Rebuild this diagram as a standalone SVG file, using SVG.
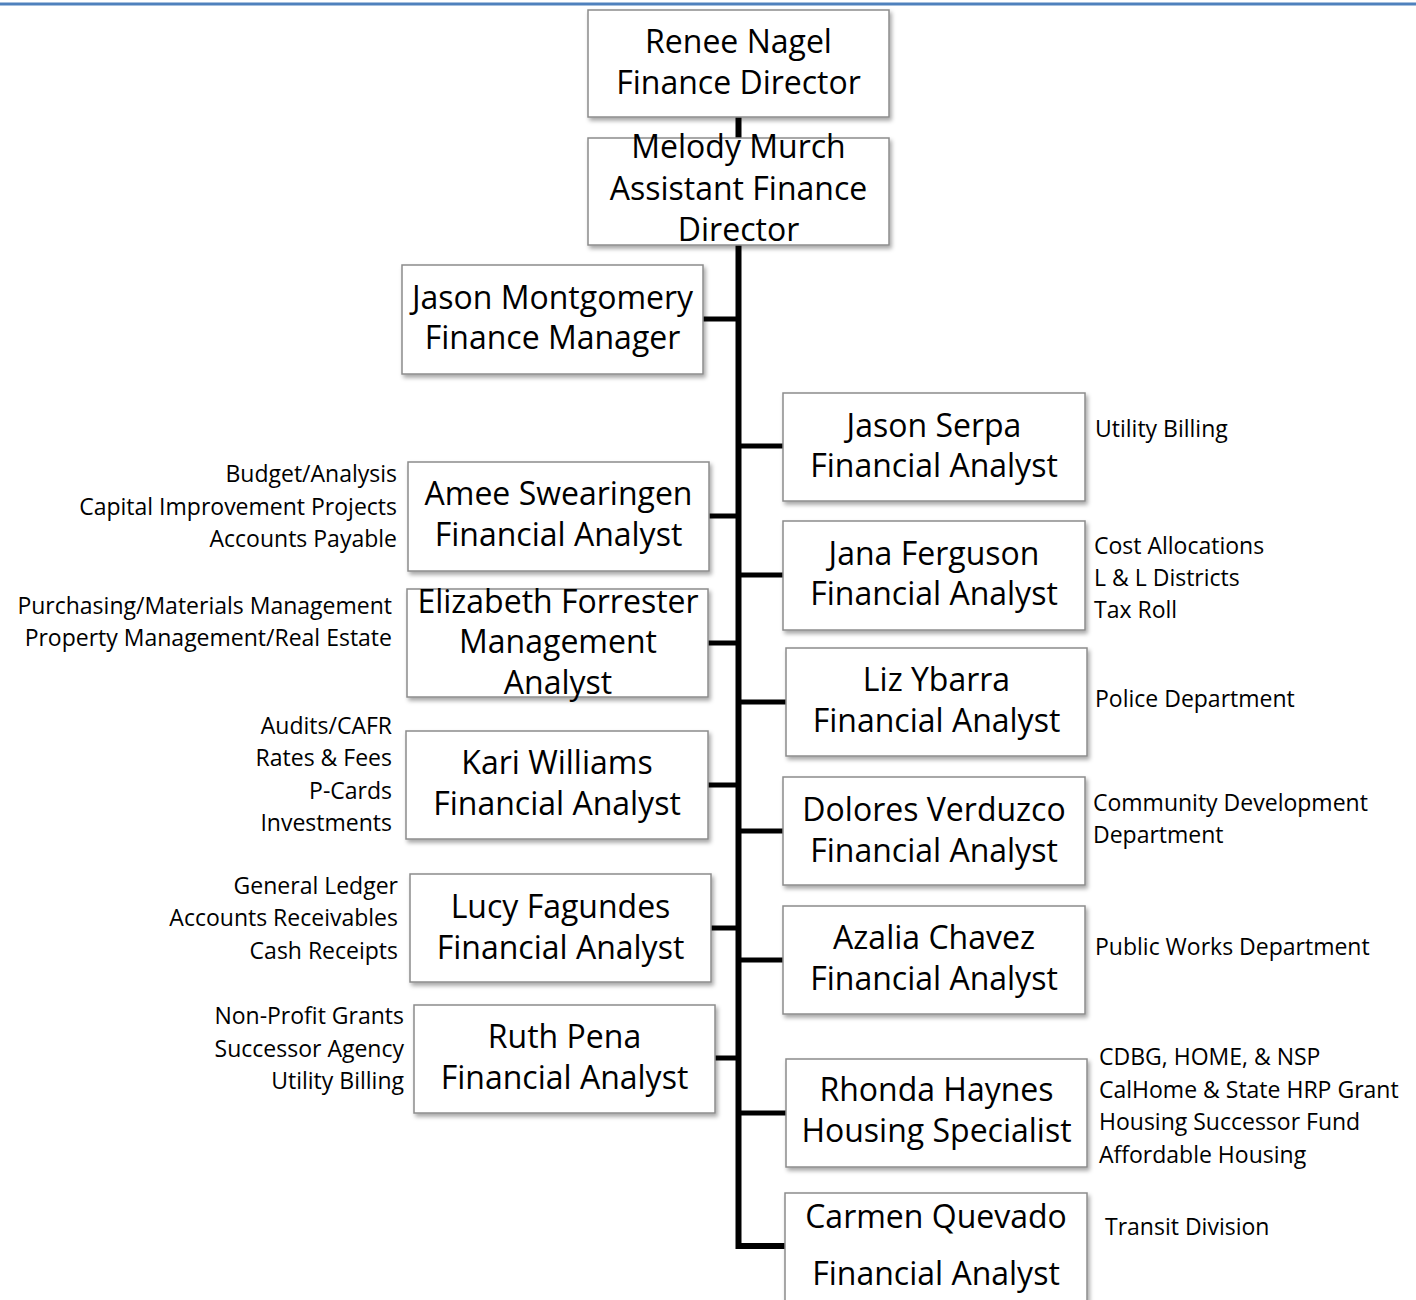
<svg xmlns="http://www.w3.org/2000/svg" width="1416" height="1300" viewBox="0 0 1416 1300">
<style>
.box{fill:#fff;stroke:#8c8c8c;stroke-width:1.5;filter:url(#sh)}
.t{font-family:"Open Sans","Liberation Sans",sans-serif;font-size:32px;fill:#000;text-anchor:middle}
.s{font-family:"Open Sans","Liberation Sans",sans-serif;font-size:23px;fill:#000}
.r{text-anchor:end}
.c{stroke:#000;fill:none}
</style>
<defs>
<filter id="sh" x="-10%" y="-10%" width="125%" height="130%">
<feDropShadow dx="2" dy="3" stdDeviation="2" flood-color="#000" flood-opacity="0.35"/>
</filter>
</defs>
<rect x="0" y="0" width="1416" height="1300" fill="#fff"/>
<line x1="0" y1="4" x2="1416" y2="4" stroke="#4f81bd" stroke-width="3"/>
<g id="connectors">
<line class="c" x1="738.5" y1="117" x2="738.5" y2="138" stroke-width="6"/>
<polyline class="c" points="738.5,245 738.5,1246 785,1246" stroke-width="6"/>
<line class="c" x1="703" y1="319" x2="738" y2="319" stroke-width="5"/>
<line class="c" x1="738" y1="446" x2="783" y2="446" stroke-width="5"/>
<line class="c" x1="709" y1="516" x2="738" y2="516" stroke-width="5"/>
<line class="c" x1="738" y1="575" x2="783" y2="575" stroke-width="5"/>
<line class="c" x1="708" y1="643" x2="738" y2="643" stroke-width="5"/>
<line class="c" x1="738" y1="702" x2="786" y2="702" stroke-width="5"/>
<line class="c" x1="708" y1="785" x2="738" y2="785" stroke-width="5"/>
<line class="c" x1="738" y1="831" x2="783" y2="831" stroke-width="5"/>
<line class="c" x1="711" y1="928" x2="738" y2="928" stroke-width="5"/>
<line class="c" x1="738" y1="960" x2="783" y2="960" stroke-width="5"/>
<line class="c" x1="715" y1="1058" x2="738" y2="1058" stroke-width="5"/>
<line class="c" x1="738" y1="1113" x2="786" y2="1113" stroke-width="5"/>
</g>
<g id="renee"><rect class="box" x="588" y="10" width="301" height="107"/>
<text class="t" x="738.5" y="53">Renee Nagel</text><text class="t" x="738.5" y="94">Finance Director</text></g>
<g id="melody"><rect class="box" x="588" y="138" width="301" height="107"/>
<text class="t" x="738.5" y="158">Melody Murch</text><text class="t" x="738.5" y="200">Assistant Finance</text><text class="t" x="738.5" y="241">Director</text></g>
<g id="montgomery"><rect class="box" x="402" y="265" width="301" height="109"/>
<text class="t" x="552.5" y="309">Jason Montgomery</text><text class="t" x="552.5" y="349">Finance Manager</text></g>
<g id="serpa"><rect class="box" x="783" y="393" width="302" height="108"/>
<text class="t" x="934" y="437">Jason Serpa</text><text class="t" x="934" y="477">Financial Analyst</text>
<text class="s" x="1095" y="437">Utility Billing</text></g>
<g id="swearingen"><rect class="box" x="408" y="462" width="301" height="109"/>
<text class="t" x="558.5" y="505">Amee Swearingen</text><text class="t" x="558.5" y="546">Financial Analyst</text>
<text class="s r" x="397" y="482">Budget/Analysis</text><text class="s r" x="397" y="515">Capital Improvement Projects</text><text class="s r" x="397" y="547">Accounts Payable</text></g>
<g id="ferguson"><rect class="box" x="783" y="521" width="302" height="109"/>
<text class="t" x="934" y="565">Jana Ferguson</text><text class="t" x="934" y="605">Financial Analyst</text>
<text class="s" x="1094" y="554">Cost Allocations</text><text class="s" x="1094" y="586">L &amp; L Districts</text><text class="s" x="1094" y="618">Tax Roll</text></g>
<g id="forrester"><rect class="box" x="407" y="589" width="301" height="108"/>
<text class="t" x="558" y="613">Elizabeth Forrester</text><text class="t" x="558" y="653">Management</text><text class="t" x="558" y="694">Analyst</text>
<text class="s r" x="392" y="614">Purchasing/Materials Management</text><text class="s r" x="392" y="646">Property Management/Real Estate</text></g>
<g id="ybarra"><rect class="box" x="786" y="648" width="301" height="108"/>
<text class="t" x="936.5" y="691">Liz Ybarra</text><text class="t" x="936.5" y="732">Financial Analyst</text>
<text class="s" x="1095" y="707">Police Department</text></g>
<g id="williams"><rect class="box" x="406" y="731" width="302" height="108"/>
<text class="t" x="557" y="774">Kari Williams</text><text class="t" x="557" y="815">Financial Analyst</text>
<text class="s r" x="392" y="734">Audits/CAFR</text><text class="s r" x="392" y="766">Rates &amp; Fees</text><text class="s r" x="392" y="799">P-Cards</text><text class="s r" x="392" y="831">Investments</text></g>
<g id="verduzco"><rect class="box" x="783" y="777" width="302" height="108"/>
<text class="t" x="934" y="821">Dolores Verduzco</text><text class="t" x="934" y="862">Financial Analyst</text>
<text class="s" x="1093" y="811">Community Development</text><text class="s" x="1093" y="843">Department</text></g>
<g id="fagundes"><rect class="box" x="410" y="874" width="301" height="108"/>
<text class="t" x="560.5" y="918">Lucy Fagundes</text><text class="t" x="560.5" y="959">Financial Analyst</text>
<text class="s r" x="398" y="894">General Ledger</text><text class="s r" x="398" y="926">Accounts Receivables</text><text class="s r" x="398" y="959">Cash Receipts</text></g>
<g id="chavez"><rect class="box" x="783" y="906" width="302" height="108"/>
<text class="t" x="934" y="949">Azalia Chavez</text><text class="t" x="934" y="990">Financial Analyst</text>
<text class="s" x="1095" y="955">Public Works Department</text></g>
<g id="pena"><rect class="box" x="414" y="1005" width="301" height="108"/>
<text class="t" x="564.5" y="1048">Ruth Pena</text><text class="t" x="564.5" y="1089">Financial Analyst</text>
<text class="s r" x="404" y="1024">Non-Profit Grants</text><text class="s r" x="404" y="1057">Successor Agency</text><text class="s r" x="404" y="1089">Utility Billing</text></g>
<g id="haynes"><rect class="box" x="786" y="1059" width="301" height="108"/>
<text class="t" x="936.5" y="1101">Rhonda Haynes</text><text class="t" x="936.5" y="1142">Housing Specialist</text>
<text class="s" x="1099" y="1065">CDBG, HOME, &amp; NSP</text><text class="s" x="1099" y="1098">CalHome &amp; State HRP Grant</text><text class="s" x="1099" y="1130">Housing Successor Fund</text><text class="s" x="1099" y="1163">Affordable Housing</text></g>
<g id="quevado"><rect class="box" x="785" y="1193" width="302" height="120"/>
<text class="t" x="936" y="1228">Carmen Quevado</text><text class="t" x="936" y="1285">Financial Analyst</text>
<text class="s" x="1105" y="1235">Transit Division</text></g>
</svg>
